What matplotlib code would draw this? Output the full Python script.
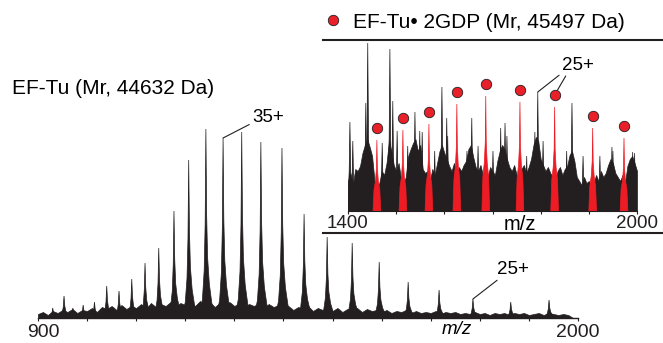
import matplotlib.pyplot as plt
import matplotlib.transforms as mtransforms
import numpy as np
from matplotlib.lines import Line2D

plt.rcParams['font.family'] = ['Liberation Sans', 'DejaVu Sans']

# main spectrum: EF-Tu charge states (m/z, relative intensity)
main_mz = [930, 953, 971, 992, 1015, 1040, 1065, 1091, 1118, 1146, 1177, 1207, 1242, 1277,
           1315, 1354, 1397, 1442, 1489, 1540, 1595, 1654, 1717, 1786, 1863, 1941]
main_int = [10, 22, 10, 13, 16, 32, 27, 39, 55, 70, 107, 158, 189, 180,
            186, 176, 170, 104, 81, 75, 56, 36, 28, 19, 16, 18]
# baseline grass, one value every 10 m/z from 900
main_noise = [4, 6, 3, 7, 5, 8, 6, 9, 5, 8,
              7, 10, 6, 11, 9, 12, 8, 13, 9, 12,
              10, 14, 9, 15, 11, 14, 12, 16, 11, 15,
              13, 16, 12, 17, 13, 16, 11, 15, 13, 16,
              12, 15, 11, 14, 12, 15, 10, 14, 11, 13,
              9, 12, 8, 11, 9, 12, 7, 10, 8, 11,
              7, 10, 6, 9, 8, 10, 6, 9, 7, 8,
              6, 8, 5, 7, 6, 8, 5, 7, 5, 6,
              5, 7, 4, 6, 5, 6, 4, 5, 4, 6,
              4, 5, 3, 5, 4, 5, 3, 5, 4, 5,
              3, 4, 5, 3, 5, 4, 3, 4, 3, 0]

# inset spectrum: apo EF-Tu peaks (black) and EF-Tu-2GDP peaks (red)
inset_mz = [1404, 1437, 1441, 1487, 1493, 1539, 1554, 1595, 1605, 1657,
            1717, 1726, 1788, 1794, 1865, 1948, 1991]
inset_int = [89, 108, 168, 162, 110, 99, 79, 124, 93, 93,
             83, 88, 79, 119, 108, 64, 59]
# smaller black spikes in the inset
minor_mz = [1410, 1471, 1502, 1524, 1549, 1580, 1607, 1647, 1670, 1701,
            1730, 1771, 1805, 1854, 1888, 1923, 1950, 1995]
minor_int = [70, 68, 80, 65, 80, 60, 75, 60, 65, 60,
             75, 55, 70, 60, 55, 55, 60, 58]
gdp_mz = [1460, 1514, 1568, 1626, 1686, 1757, 1829, 1908, 1973]
gdp_int = [71, 81, 87, 107, 115, 109, 104, 83, 73]
# inset background, one value every 5 m/z from 1400 to 2000
inset_noise = [30, 38, 26, 42, 40, 45, 58, 66, 72, 64,
               55, 30, 24, 28, 40, 36, 48, 70, 60, 46,
               40, 48, 32, 28, 34, 55, 62, 68, 72, 60,
               66, 42, 38, 40, 30, 42, 36, 48, 60, 66,
               58, 52, 45, 40, 48, 36, 44, 40, 46, 50,
               62, 66, 54, 44, 40, 46, 36, 42, 34, 44,
               40, 36, 50, 60, 66, 62, 52, 44, 40, 46,
               36, 34, 42, 46, 38, 44, 52, 66, 74, 70,
               52, 46, 40, 44, 38, 34, 30, 40, 44, 36,
               42, 45, 56, 60, 50, 34, 30, 26, 34, 28,
               30, 26, 28, 36, 30, 40, 34, 38, 46, 52,
               48, 38, 34, 30, 36, 28, 45, 52, 55, 48, 40]

ink = '#231f20'
red = '#ed1c24'

# peak profile templates (m/z offset, fraction of apex)
main_off = np.array([-14, -7, -3.5, -1.5, 0, 1.5, 3.5, 7, 12, 18])
main_frac = np.array([0, 0.1, 0.25, 0.5, 1, 0.55, 0.32, 0.18, 0.08, 0])
spike_off = np.array([-5, -1.5, 0, 1.5, 5])
spike_frac = np.array([0, 0.45, 1, 0.45, 0])
red_off = np.array([-8, -6, -3, -1, 0, 1, 3, 6, 8])
red_frac = np.array([0, 0.3, 0.42, 0.6, 1, 0.6, 0.42, 0.3, 0])


def draw_peaks(ax, mz, inten, off, frac, color):
    for m, h in zip(mz, inten):
        ax.fill(m + off, h * frac, color=color, lw=0.5, ec=color)


fig = plt.figure(figsize=(6.63, 3.43), dpi=100)

# main spectrum
ax = fig.add_axes([38/663, 25/343, 540/663, 200/343])
ax.set_xlim(900, 2000)
ax.set_ylim(0, 200)
noise_x = np.arange(900, 900 + 10*len(main_noise), 10)
ax.fill_between(noise_x, 0, main_noise, color=ink, lw=0.5)
draw_peaks(ax, main_mz, main_int, main_off, main_frac, ink)
for s in ['top', 'right', 'left']:
    ax.spines[s].set_visible(False)
ax.spines['bottom'].set_linewidth(1.0)
ax.spines['bottom'].set_color(ink)
ax.set_yticks([])
ticks = np.arange(900, 2001, 100)
ax.set_xticks(ticks)
ax.set_xticklabels(['900'] + ['']*(len(ticks)-2) + ['2000'], fontsize=14)
ax.tick_params(axis='x', length=2.5, width=0.8, pad=1.5, colors=ink)
first = ax.get_xticklabels()[0]
first.set_transform(first.get_transform() + mtransforms.ScaledTranslation(0.05, 0, fig.dpi_scale_trans))
ax.text(1753, -12, 'm/z', style='italic', fontsize=13.5, ha='center', va='center')

ax.annotate('35+', xy=(1277, 180), xytext=(1336, 200), ha='left', va='center', fontsize=13.5,
            arrowprops=dict(arrowstyle='-', lw=0.8, color=ink, shrinkA=0, shrinkB=0, relpos=(0, 0.2)),
            annotation_clip=False)
ax.annotate('25+', xy=(1786, 19), xytext=(1835, 49), ha='left', va='center', fontsize=13.5,
            arrowprops=dict(arrowstyle='-', lw=0.8, color=ink, shrinkA=0, shrinkB=0, relpos=(0.15, 0.05)),
            annotation_clip=False)

fig.text(12/663, 1 - 89/343, 'EF-Tu (Mr, 44632 Da)', fontsize=15, va='center')

# inset spectrum
axi = fig.add_axes([348/663, 132/343, 289/663, 175/343])
axi.set_xlim(1400, 2000)
axi.set_ylim(0, 175)
axi.patch.set_alpha(0)
inoise_x = np.arange(1400, 1400 + 5*len(inset_noise), 5)
axi.fill_between(inoise_x, 0, inset_noise, color=ink, lw=0.5)
draw_peaks(axi, minor_mz, minor_int, spike_off, spike_frac, ink)
draw_peaks(axi, inset_mz, inset_int, spike_off, spike_frac, ink)
draw_peaks(axi, gdp_mz, gdp_int, red_off, red_frac, red)
axi.plot(gdp_mz, np.array(gdp_int) + 12, 'o', ms=7.5, mfc='#e8202a', mec=ink, mew=0.6,
         label='EF-Tu• 2GDP (Mr, 45497 Da)', clip_on=False)
for s in ['top', 'right', 'left']:
    axi.spines[s].set_visible(False)
axi.spines['bottom'].set_linewidth(0.8)
axi.spines['bottom'].set_color(ink)
axi.set_yticks([])
iticks = np.arange(1400, 2001, 100)
axi.set_xticks(iticks)
axi.set_xticklabels(['1400'] + ['']*(len(iticks)-2) + ['2000'], fontsize=13.5)
axi.tick_params(axis='x', length=2, width=0.8, pad=1, colors=ink)
axi.text(1757, -13.5, 'm/z', fontsize=14.5, ha='center', va='center')

axi.annotate('25+', xy=(1794, 119), xytext=(1844, 146), ha='left', va='center', fontsize=13.5,
             arrowprops=dict(arrowstyle='-', lw=0.8, color=ink, shrinkA=0, shrinkB=0, relpos=(0.05, 0.1)),
             annotation_clip=False)
axi.annotate('', xy=(1829, 104 + 12), xytext=(1852, 135),
             arrowprops=dict(arrowstyle='-', lw=0.8, color=ink, shrinkA=0, shrinkB=4),
             annotation_clip=False)

axi.legend(loc='center left', bbox_to_anchor=(323/663, 1 - 22/343), bbox_transform=fig.transFigure,
           frameon=False, fontsize=15, handlelength=1.0, handletextpad=0.45,
           borderpad=0, borderaxespad=0)

# frame lines above and below the inset
fig.add_artist(Line2D([323/663, 1], [1 - 40/343]*2, color=ink, lw=1.5))
fig.add_artist(Line2D([323/663, 1], [1 - 233/343]*2, color=ink, lw=1.5))

fig.savefig('out.png', dpi=100)
plt.close()
